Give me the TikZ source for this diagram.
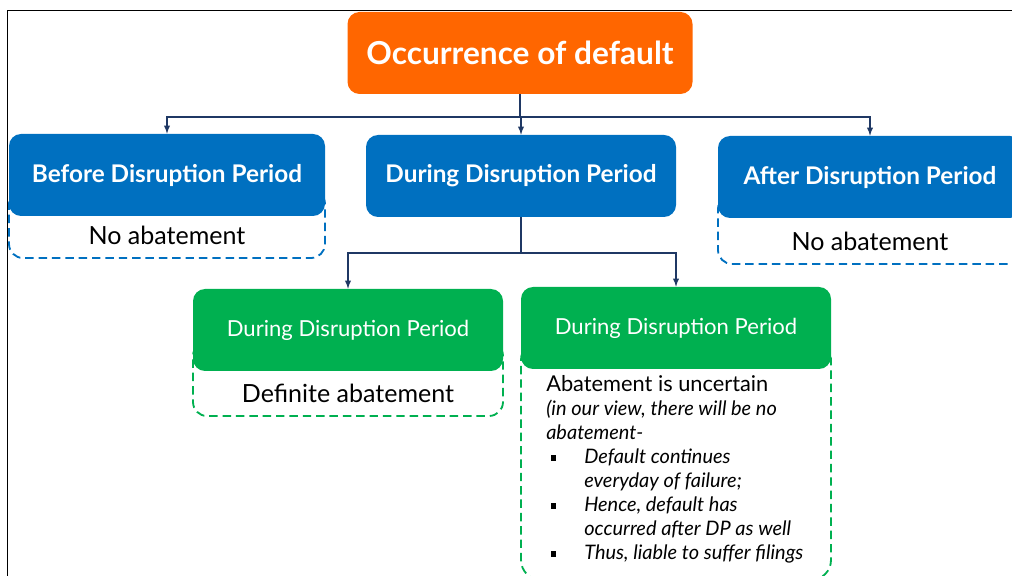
\documentclass[tikz,border=0pt]{standalone}
\usepackage{fontspec}
\setmainfont{Lato}
\usetikzlibrary{calc}
\definecolor{titleorange}{HTML}{FF6600}
\definecolor{dpblue}{HTML}{0070C0}
\definecolor{dpgreen}{HTML}{00B050}
\definecolor{linknavy}{HTML}{1F3864}
\newcommand{\px}{0.025cm}
\newcommand{\bulletsq}{\makebox[27pt][l]{\hspace{3pt}\raisebox{2pt}{\rule{4pt}{4pt}}}}
\begin{document}
\begin{tikzpicture}[x=0.025cm,y=-0.025cm]
\tikzstyle{colbox}=[rounded corners=0.3cm,text=white,minimum height=82*\px,inner sep=0pt]
\tikzstyle{titlebox}=[colbox,fill=titleorange,font=\fontsize{22.5}{26}\selectfont\bfseries]
\tikzstyle{bluebox}=[colbox,fill=dpblue,minimum width=310*\px,font=\fontsize{17.3}{20}\selectfont\bfseries]
\tikzstyle{greenbox}=[colbox,fill=dpgreen,minimum width=310*\px,font=\fontsize{15.7}{18}\selectfont]
\tikzstyle{dashbox}=[draw,dash pattern=on 6pt off 3.5pt,line width=1.3pt,rounded corners=0.35cm,inner sep=0pt]
\tikzstyle{abtext}=[font=\fontsize{17.8}{20}\selectfont]
\tikzstyle{link}=[draw=linknavy,line width=1pt,->,>=latex]
\clip (0,0) rectangle (1012,576);
% frame
\draw[line width=1.4pt] (7.5,600) -- (7.5,10.5) -- (1030,10.5);
% dashed boxes behind
\node[dashbox,draw=dpblue,minimum width=316*\px,minimum height=68*\px] (beforedash) at (167,224) {};
\node[dashbox,draw=dpblue,minimum width=304*\px,minimum height=69*\px] (afterdash) at (870,229.5) {};
\node[dashbox,draw=dpgreen,minimum width=310*\px,minimum height=74*\px] (definitedash) at (348,379) {};
\node[dashbox,draw=dpgreen,minimum width=310*\px,minimum height=240*\px,rounded corners=0.5cm] (uncertaindash) at (676,460) {};
% boxes
\node[titlebox,minimum width=345*\px] (default) at (520,53) {Occurrence of default};
\node[bluebox,minimum width=316*\px] (before) at (167,175) {Before Disruption Period};
\node[bluebox] (during) at (521,176) {During Disruption Period};
\node[bluebox,minimum width=304*\px] (after) at (870,177) {After Disruption Period};
\node[greenbox] (definite) at (348,330) {During Disruption Period};
\node[greenbox] (uncertain) at (676,328) {During Disruption Period};
% texts
\node[abtext] (beforetxt) at (167,235) {No abatement};
\node[abtext] (aftertxt) at (870,241) {No abatement};
\node[abtext] (definitetxt) at (348,393) {Definite abatement};
\node[anchor=north west,align=left,inner sep=0pt,font=\fontsize{14.2}{17.1}\selectfont] (uncertaintxt) at (546,375) {%
{\fontsize{15.5}{17.1}\selectfont Abatement is uncertain}\\
\textit{(in our view, there will be no}\\
\textit{abatement-}\\
\bulletsq\textit{Default continues}\\
\hspace*{27pt}\textit{everyday of failure;}\\
\bulletsq\textit{Hence, default has}\\
\hspace*{27pt}\textit{occurred after DP as well}\\
\bulletsq\textit{Thus, liable to suffer filings}};
% connectors
\coordinate (split1) at (520,117);
\coordinate (split2) at (521,253);
\draw[draw=linknavy,line width=1pt] (default.south) -- (split1);
\foreach \target in {before,during,after}
  \draw[link] (split1) -| (\target.north);
\draw[draw=linknavy,line width=1pt] (during.south) -- (split2);
\foreach \target in {definite,uncertain}
  \draw[link] (split2) -| (\target.north);
\end{tikzpicture}
\end{document}
